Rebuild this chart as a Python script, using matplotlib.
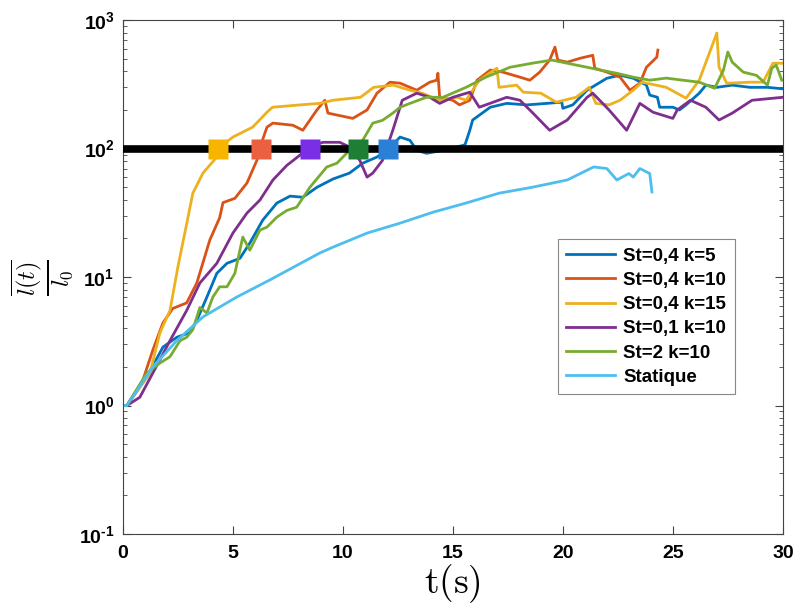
import matplotlib
matplotlib.use("Agg")
import matplotlib.pyplot as plt
from matplotlib.ticker import FuncFormatter
import numpy as np

plt.rcParams['font.family'] = ['Liberation Sans', 'DejaVu Sans']
plt.rcParams['mathtext.fontset'] = 'custom'
plt.rcParams['mathtext.rm'] = 'Liberation Sans:bold'
plt.rcParams['mathtext.it'] = 'Liberation Sans:bold'
plt.rcParams['mathtext.bf'] = 'Liberation Sans:bold'

# St=0,4 k=5
t_k5 = [0, 0.18, 1.09, 1.82, 2.45, 3.05, 3.36, 3.82, 4.27, 4.73, 5.32, 5.77, 6.36, 7.0, 7.6, 8.18,
        8.82, 9.55, 10.3, 10.9, 11.55, 12.0, 12.6, 13.05, 13.36, 13.8, 14.27, 14.9, 15.55, 15.77,
        15.9, 16.7, 17.45, 18.36, 19.27, 19.95, 20.0, 20.45, 21.1, 22.0, 22.6, 23.2, 23.8, 23.95,
        24.3, 24.4, 25.0, 25.3, 25.6, 26.2, 26.5, 27.0, 27.7, 28.5, 29.3, 30.0]
y_k5 = [1.0, 1.0, 1.67, 2.85, 3.4, 3.7, 4.6, 7.0, 10.7, 12.8, 14, 18.4, 27.8, 37.7, 42.7, 41.8,
        50, 58, 64.5, 77, 86, 97, 123, 116, 97, 92, 95, 100, 107, 139,
        167, 210, 225, 219, 225, 230, 206, 219, 285, 353, 373, 353, 312, 261,
        251, 210, 210, 200, 219, 270, 312, 300, 312, 300, 300, 292]

# St=0,4 k=10
t_k10 = [0, 0.18, 0.91, 1.36, 1.82, 2.27, 2.9, 3.36, 3.95, 4.4, 4.55, 5.09, 5.64, 6.09, 6.23, 6.55,
         6.82, 7.73, 8.18, 8.82, 9.18, 9.32, 10.45, 11.1, 11.55, 12.14, 12.6, 13.36, 13.95, 14.27,
         14.32, 14.4, 15.0, 15.3, 15.77, 16.1, 16.7, 17.27, 18.05, 18.5, 18.95, 19.4, 19.64, 19.77,
         20.2, 20.8, 21.36, 21.45, 22.0, 22.6, 23.05, 23.5, 23.8, 24.27, 24.32]
y_k10 = [1.0, 1.0, 1.58, 2.7, 4.4, 5.7, 6.3, 9.0, 19.4, 29, 38, 41, 54, 81, 102, 147,
         158, 152, 139, 200, 238, 189, 172, 200, 270, 329, 323, 285, 329, 341,
         386, 251, 238, 219, 238, 341, 409, 394, 360, 341, 394, 489, 617, 489,
         471, 506, 533, 423, 394, 360, 285, 323, 430, 515, 585]

# St=0,4 k=15
t_k15 = [0, 0.18, 1.23, 1.68, 2.14, 2.5, 2.9, 3.18, 3.64, 4.27, 4.32, 5.0, 5.9, 6.55, 6.8, 8.05,
         8.95, 9.55, 10.8, 11.4, 12.3, 13.05, 13.6, 14.4, 15.2, 15.6, 16.2, 17.0, 17.1, 17.9, 18.2,
         19.0, 19.7, 20.6, 21.2, 21.5, 22.1, 22.6, 23.2, 23.6, 24.7, 25.6, 26.2, 27.0, 27.1, 27.45,
         28.5, 29.1, 29.55, 30.0]
y_k15 = [1.0, 1.0, 1.79, 3.67, 5.5, 12, 26, 45, 64.5, 86, 100, 123, 147, 192, 210, 219,
         225, 238, 251, 300, 312, 285, 270, 238, 251, 238, 341, 423, 300, 312, 275,
         270, 230, 251, 300, 225, 219, 238, 285, 329, 300, 247, 341, 794, 430, 323,
         329, 329, 462, 462]

# St=0,1 k=10
t_st01 = [0, 0.18, 0.77, 1.36, 2.14, 2.9, 3.5, 4.27, 5.0, 5.64, 6.23, 6.82, 7.45, 8.05, 8.5, 9.09,
          9.86, 10.3, 10.77, 11.1, 11.36, 11.8, 12.27, 12.7, 13.36, 13.95, 14.4, 15.0, 15.77, 16.2,
          17.45, 18.05, 18.64, 19.4, 20.2, 21.1, 21.36, 22.1, 22.9, 23.5, 24.1, 25.0, 25.2, 25.8,
          26.5, 27.1, 27.7, 28.6, 30.0]
y_st01 = [1.0, 1.0, 1.16, 1.79, 3.2, 5.5, 9.0, 12.8, 22, 31.5, 39.8, 57, 74, 89, 103, 112,
          112, 103, 81, 60, 64.5, 81, 139, 238, 270, 251, 225, 251, 275, 210,
          251, 238, 189, 139, 167, 251, 270, 200, 139, 225, 192, 172, 200, 238,
          210, 167, 189, 238, 251]

# St=2 k=10
t_st2 = [0, 0.18, 1.09, 1.68, 2.14, 2.6, 2.9, 3.18, 3.5, 3.82, 4.09, 4.4, 4.73, 5.09, 5.45, 5.77,
         6.23, 6.55, 7.0, 7.45, 7.9, 8.5, 9.27, 9.73, 10.3, 10.9, 11.36, 11.8, 12.27, 12.6, 13.05,
         13.8, 14.55, 15.6, 16.5, 17.6, 18.6, 19.5, 20.2, 21.1, 21.7, 22.45, 23.2, 23.95, 24.7,
         25.45, 26.2, 26.9, 27.3, 27.5, 27.7, 28.2, 28.8, 29.3, 29.5, 29.7, 29.95]
y_st2 = [1.0, 1.0, 1.79, 2.14, 2.4, 3.2, 3.4, 3.9, 5.8, 5.25, 7.0, 8.4, 8.4, 10.7, 20.5, 16.2,
         23.2, 24.5, 29.3, 33, 35, 50, 72, 77, 97, 116, 158, 166, 189, 210, 225,
         251, 251, 300, 360, 430, 462, 489, 462, 430, 409, 386, 360, 341, 354,
         341, 329, 295, 409, 565, 471, 394, 372, 312, 423, 447, 341]

# Statique
t_stat = [0, 0.18, 1.36, 2.45, 3.64, 5.18, 6.68, 8.95, 9.55, 11.1, 12.6, 14.1, 15.6, 17.1, 18.6,
          20.2, 21.4, 22.0, 22.45, 23.0, 23.2, 23.5, 23.95, 24.05]
y_stat = [1.0, 1.0, 2.0, 3.2, 4.9, 7.0, 9.5, 15.4, 17.1, 22, 26.3, 32, 37.7, 45, 50,
          57, 72, 70, 57, 64, 60, 70, 64, 46]

# times where each run reaches the threshold
t_seuil = [4.32, 6.27, 8.5, 10.68, 12.05]
seuil = 100

series = [
    (t_k5, y_k5, 'St=0,4 k=5', '#0072BD'),
    (t_k10, y_k10, 'St=0,4 k=10', '#D95319'),
    (t_k15, y_k15, 'St=0,4 k=15', '#EDB120'),
    (t_st01, y_st01, 'St=0,1 k=10', '#7E2F8E'),
    (t_st2, y_st2, 'St=2 k=10', '#77AC30'),
    (t_stat, y_stat, 'Statique', '#4DBEEE'),
]
marker_colors = ['#F7B500', '#EA6040', '#7A2EE6', '#1E7E34', '#2A80D6']

fig = plt.figure(figsize=(7.98, 6.11), dpi=100)
ax = fig.add_axes([0.154, 0.126, 0.827, 0.841])

for t, y, lab, c in series:
    ax.plot(t, y, color=c, lw=2.0, label=lab)

ax.axhline(seuil, color='black', lw=5.5, zorder=3)
for tx, mc in zip(t_seuil, marker_colors):
    ax.plot(tx, seuil, marker='s', ms=15, color=mc, mec='none', zorder=4)

ax.set_yscale('log')
ax.set_xlim(0, 30)
ax.set_ylim(0.1, 1000)
ax.set_xticks(np.arange(0, 31, 5))
ax.set_yticks([0.1, 1, 10, 100, 1000])
ax.yaxis.set_major_formatter(FuncFormatter(
    lambda v, p: r'$\mathbf{10^{\text{%d}}}$' % round(np.log10(v))))
ax.tick_params(which='both', direction='in', top=True, right=True, labelsize=14,
               color='#444444')
ax.tick_params(which='major', length=6, width=0.8)
ax.tick_params(axis='x', pad=8)
ax.tick_params(axis='y', pad=6)
ax.tick_params(which='minor', length=3, width=0.6)
for lbl in ax.get_xticklabels() + ax.get_yticklabels():
    lbl.set_fontweight('bold')
for sp in ax.spines.values():
    sp.set_color('#444444')
    sp.set_linewidth(0.8)

ax.set_xlabel(r'$\mathrm{t(s)}$', math_fontfamily='cm', fontsize=27, labelpad=0)
ax.set_ylabel(r'$\frac{\overline{l(t)}}{l_0}$', math_fontfamily='cm', fontsize=25, labelpad=2)

leg = ax.legend(loc='upper left', bbox_to_anchor=(0.659, 0.574), borderaxespad=0,
                fancybox=False, edgecolor='#888888', framealpha=1, handlelength=2.6,
                labelspacing=0.38, borderpad=0.45, handletextpad=0.45,
                prop={'weight': 'bold', 'size': 13.5})
leg.get_frame().set_linewidth(0.8)

fig.savefig('out.png', dpi=100)
